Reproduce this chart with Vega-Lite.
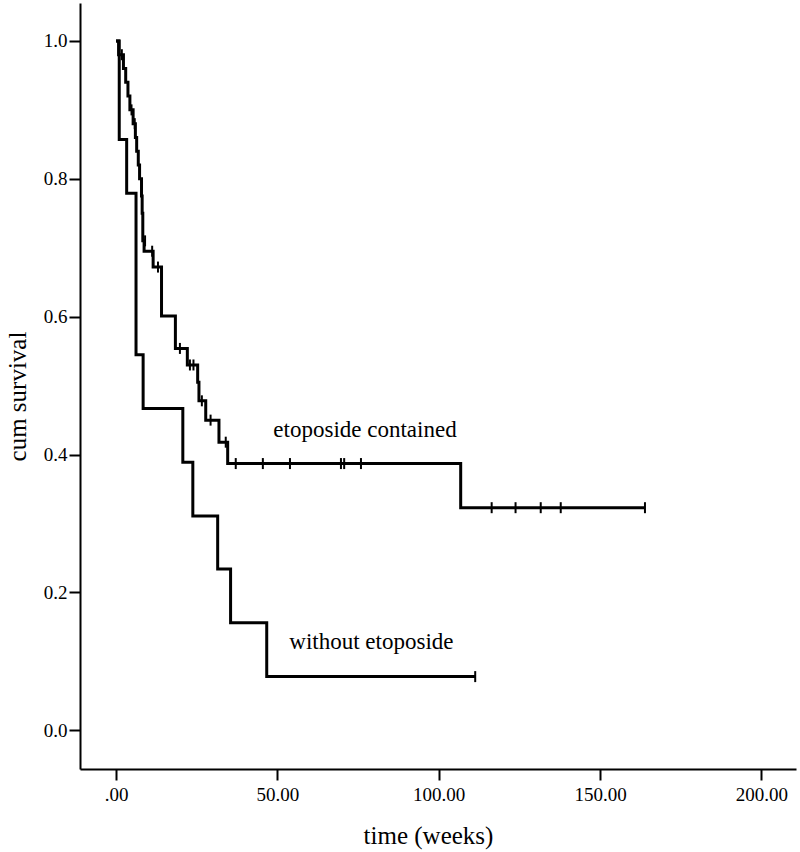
{
  "$schema": "https://vega.github.io/schema/vega-lite/v6.json",
  "width": 716,
  "height": 766,
  "autosize": {"type": "none"},
  "padding": {"left": 80, "top": 3, "right": 4, "bottom": 83},
  "background": "white",
  "config": {
    "view": {"stroke": null},
    "axis": {
      "grid": false,
      "domainColor": "black",
      "domainWidth": 2,
      "tickColor": "black",
      "tickWidth": 2,
      "tickSize": 11,
      "labelFont": "Liberation Serif",
      "labelFontSize": 19,
      "labelColor": "black",
      "titleFont": "Liberation Serif",
      "titleFontSize": 25,
      "titleFontWeight": "normal",
      "titleColor": "black"
    }
  },
  "datasets": {
    "steps": [
      {"group": "etoposide", "t": 0, "s": 1.0},
      {"group": "etoposide", "t": 0.8, "s": 0.98},
      {"group": "etoposide", "t": 2.3, "s": 0.96},
      {"group": "etoposide", "t": 3.0, "s": 0.94},
      {"group": "etoposide", "t": 3.7, "s": 0.92},
      {"group": "etoposide", "t": 4.3, "s": 0.90},
      {"group": "etoposide", "t": 5.3, "s": 0.88},
      {"group": "etoposide", "t": 6.0, "s": 0.86},
      {"group": "etoposide", "t": 6.4, "s": 0.84},
      {"group": "etoposide", "t": 6.9, "s": 0.82},
      {"group": "etoposide", "t": 7.3, "s": 0.80},
      {"group": "etoposide", "t": 7.9, "s": 0.775},
      {"group": "etoposide", "t": 8.1, "s": 0.75},
      {"group": "etoposide", "t": 8.3, "s": 0.71},
      {"group": "etoposide", "t": 8.7, "s": 0.695},
      {"group": "etoposide", "t": 11.5, "s": 0.672},
      {"group": "etoposide", "t": 14.1, "s": 0.601},
      {"group": "etoposide", "t": 18.4, "s": 0.554},
      {"group": "etoposide", "t": 22.1, "s": 0.530},
      {"group": "etoposide", "t": 25.3, "s": 0.505},
      {"group": "etoposide", "t": 25.7, "s": 0.478},
      {"group": "etoposide", "t": 27.8, "s": 0.450},
      {"group": "etoposide", "t": 31.9, "s": 0.418},
      {"group": "etoposide", "t": 34.6, "s": 0.387},
      {"group": "etoposide", "t": 106.8, "s": 0.323},
      {"group": "etoposide", "t": 163.9, "s": 0.323},
      {"group": "without", "t": 0, "s": 1.0},
      {"group": "without", "t": 1.0, "s": 0.857},
      {"group": "without", "t": 3.3, "s": 0.779},
      {"group": "without", "t": 6.2, "s": 0.545},
      {"group": "without", "t": 8.4, "s": 0.467},
      {"group": "without", "t": 20.7, "s": 0.389},
      {"group": "without", "t": 23.8, "s": 0.311},
      {"group": "without", "t": 31.5, "s": 0.234},
      {"group": "without", "t": 35.5, "s": 0.156},
      {"group": "without", "t": 46.7, "s": 0.078},
      {"group": "without", "t": 111.3, "s": 0.078}
    ],
    "censored": [
      {"group": "etoposide", "t": 1.8, "s": 0.98},
      {"group": "etoposide", "t": 4.8, "s": 0.90},
      {"group": "etoposide", "t": 5.8, "s": 0.88},
      {"group": "etoposide", "t": 9.0, "s": 0.71},
      {"group": "etoposide", "t": 11.2, "s": 0.695},
      {"group": "etoposide", "t": 13.0, "s": 0.672},
      {"group": "etoposide", "t": 19.8, "s": 0.554},
      {"group": "etoposide", "t": 22.9, "s": 0.530},
      {"group": "etoposide", "t": 24.0, "s": 0.530},
      {"group": "etoposide", "t": 26.6, "s": 0.478},
      {"group": "etoposide", "t": 29.3, "s": 0.450},
      {"group": "etoposide", "t": 34.0, "s": 0.418},
      {"group": "etoposide", "t": 37.1, "s": 0.387},
      {"group": "etoposide", "t": 45.5, "s": 0.387},
      {"group": "etoposide", "t": 53.9, "s": 0.387},
      {"group": "etoposide", "t": 69.7, "s": 0.387},
      {"group": "etoposide", "t": 70.7, "s": 0.387},
      {"group": "etoposide", "t": 75.9, "s": 0.387},
      {"group": "etoposide", "t": 116.4, "s": 0.323},
      {"group": "etoposide", "t": 123.8, "s": 0.323},
      {"group": "etoposide", "t": 131.6, "s": 0.323},
      {"group": "etoposide", "t": 137.8, "s": 0.323},
      {"group": "etoposide", "t": 163.9, "s": 0.323},
      {"group": "without", "t": 111.3, "s": 0.078}
    ],
    "labels": [
      {"t": 48.75, "s": 0.4257, "label": "etoposide contained"},
      {"t": 53.7, "s": 0.118, "label": "without etoposide"}
    ]
  },
  "layer": [
    {
      "data": {"name": "steps"},
      "mark": {"type": "line", "interpolate": "step-after", "color": "black", "strokeWidth": 3},
      "encoding": {
        "x": {
          "field": "t", "type": "quantitative",
          "scale": {"domain": [-11.16, 210.7], "nice": false, "zero": false},
          "axis": {
            "title": "time (weeks)",
            "values": [0, 50, 100, 150, 200],
            "labelExpr": "datum.value == 0 ? '.00' : format(datum.value, '.2f')",
            "labelBaseline": "middle",
            "labelPadding": 14,
            "titleY": 74,
            "titleX": 348,
            "titleBaseline": "alphabetic"
          }
        },
        "y": {
          "field": "s", "type": "quantitative",
          "scale": {"domain": [-0.056, 1.055], "nice": false, "zero": false},
          "axis": {
            "title": "cum survival",
            "values": [0, 0.2, 0.4, 0.6, 0.8, 1.0],
            "format": ".1f",
            "labelPadding": 2,
            "titleX": -55,
            "titleY": 393,
            "titleAlign": "center",
            "titleBaseline": "alphabetic",
            "titleAngle": -90
          }
        },
        "detail": {"field": "group"}
      }
    },
    {
      "data": {"name": "censored"},
      "mark": {"type": "point", "shape": "M0,-1L0,1", "size": 121, "filled": false, "stroke": "black", "strokeWidth": 2, "opacity": 1},
      "encoding": {
        "x": {"field": "t", "type": "quantitative"},
        "y": {"field": "s", "type": "quantitative"}
      }
    },
    {
      "data": {"name": "labels"},
      "mark": {"type": "text", "font": "Liberation Serif", "fontSize": 23, "align": "left", "baseline": "alphabetic", "color": "black"},
      "encoding": {
        "x": {"field": "t", "type": "quantitative"},
        "y": {"field": "s", "type": "quantitative"},
        "text": {"field": "label"}
      }
    }
  ]
}
